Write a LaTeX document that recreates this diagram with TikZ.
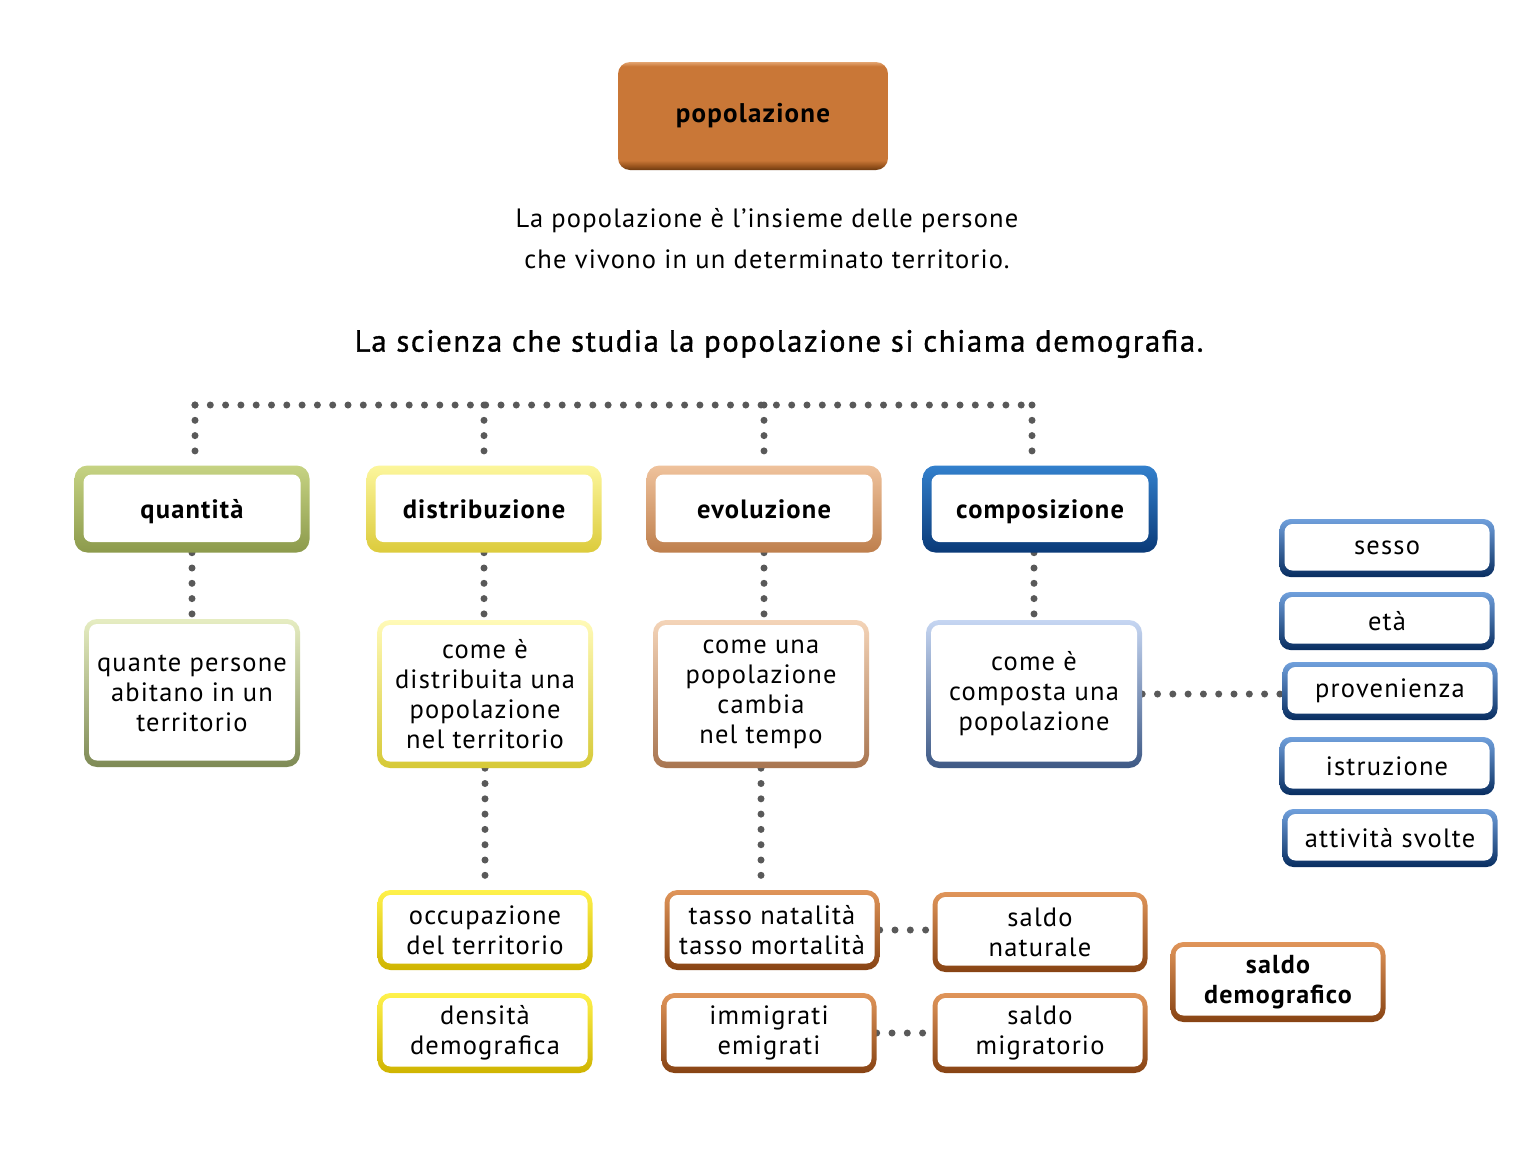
\documentclass[tikz,border=0pt]{standalone}
\usepackage{fontspec}
\setmainfont[LetterSpace=4.5]{PT Sans}
\newfontfamily\medfont[LetterSpace=5.5,FakeBold=1.2]{PT Sans}
\usetikzlibrary{shadings,backgrounds}
\definecolor{dotgray}{HTML}{595959}
\definecolor{popfill}{HTML}{C97737}
\definecolor{popdark}{HTML}{6E3A10}
\definecolor{popmid}{HTML}{9A551E}
\definecolor{poplight}{HTML}{E3A470}
\pgfdeclareverticalshading{popsh}{100bp}{color(0bp)=(popdark); color(25bp)=(popdark); color(27bp)=(popmid); color(29.5bp)=(popfill); color(73bp)=(popfill); color(75bp)=(poplight); color(100bp)=(poplight)}
\tikzset{
  dots/.style={line width=7pt, dash pattern=on 0pt off 15.3pt, line cap=round, draw=dotgray},
  box/.style={rounded corners=13pt, align=center, inner sep=0pt, font=\fontsize{26.5}{30}\selectfont},
  frame/.style n args={3}{top color=#1, bottom color=#2,
    path picture={\fill[white, rounded corners=8pt]
      ([xshift=#3, yshift=-#3]path picture bounding box.north west) rectangle
      ([xshift=-#3, yshift=#3+1.5pt]path picture bounding box.south east);}},
  lvlone/.style={box, minimum width=235pt, minimum height=87pt, text depth=-3pt, font=\fontsize{26.5}{30}\selectfont\bfseries},
  lvltwo/.style={box, minimum width=216pt, minimum height=148pt},
  lvlthree/.style={box, minimum width=215pt, minimum height=80pt},
  small/.style={box, minimum width=215pt, minimum height=58pt, rounded corners=11pt, frame={b3top}{b3bot}{5pt}},
}
\definecolor{g1top}{HTML}{C6D383}\definecolor{g1bot}{HTML}{8C9A4C}
\definecolor{g2top}{HTML}{E6EDC2}\definecolor{g2bot}{HTML}{7E8A55}
\definecolor{y1top}{HTML}{FCF69C}\definecolor{y1bot}{HTML}{DCCB3C}
\definecolor{y2top}{HTML}{FFFAB8}\definecolor{y2bot}{HTML}{D6C936}
\definecolor{y3top}{HTML}{FFF24C}\definecolor{y3bot}{HTML}{CFB400}
\definecolor{t1top}{HTML}{EFC29C}\definecolor{t1bot}{HTML}{BE7F4D}
\definecolor{t2top}{HTML}{F4D4B8}\definecolor{t2bot}{HTML}{A87550}
\definecolor{o3top}{HTML}{E0955A}\definecolor{o3bot}{HTML}{874313}
\definecolor{b1top}{HTML}{3380CC}\definecolor{b1bot}{HTML}{0A3A78}
\definecolor{b2top}{HTML}{C6D6F2}\definecolor{b2bot}{HTML}{3E5985}
\definecolor{b3top}{HTML}{70A0DC}\definecolor{b3bot}{HTML}{082D60}
\begin{document}
\begin{tikzpicture}[x=1pt, y=1pt]
\useasboundingbox (0,0) rectangle (1536,-1152);

% title box
\node[box, rounded corners=12pt, shading=popsh, minimum width=270pt, minimum height=108pt,
      font=\fontsize{27}{30}\selectfont\bfseries] (pop) at (753,-116) {popolazione};

\node[align=center, font=\fontsize{26.5}{41}\selectfont] (def) at (767,-239)
  {La popolazione è l’insieme delle persone\\che vivono in un determinato territorio.};
\node[font=\fontsize{30.5}{36}\selectfont\medfont] (sci) at (779,-344)
  {La scienza che studia la popolazione si chiama demografia.};

% coordinates of the dotted bar
\coordinate (hl) at (195,-405);
\coordinate (hr) at (1032,-405);

% level 1
\node[lvlone, frame={g1top}{g1bot}{9pt}] (quant) at (192,-509) {quantità};
\node[lvlone, frame={y1top}{y1bot}{9pt}] (distr) at (484,-509) {distribuzione};
\node[lvlone, frame={t1top}{t1bot}{9pt}] (evol) at (764,-509) {evoluzione};
\node[lvlone, frame={b1top}{b1bot}{9pt}] (comp) at (1040,-509) {composizione};

% level 2
\node[lvltwo, frame={g2top}{g2bot}{5pt}] (q2) at (192,-693) {quante persone\\abitano in un\\territorio};
\node[lvltwo, frame={y2top}{y2bot}{5pt}] (d2) at (485,-694) {come è\\distribuita una\\popolazione\\nel territorio};
\node[lvltwo, frame={t2top}{t2bot}{5pt}] (e2) at (761,-694) {come una\\popolazione\\cambia\\nel tempo};
\node[lvltwo, frame={b2top}{b2bot}{5pt}] (c2) at (1034,-694) {come è\\composta una\\popolazione};

% level 3
\node[lvlthree, frame={y3top}{y3bot}{5pt}] (occ) at (485,-930) {occupazione\\del territorio};
\node[lvlthree, frame={y3top}{y3bot}{5pt}] (dens) at (485,-1033) {densità\\demografica};
\node[lvlthree, frame={o3top}{o3bot}{5pt}] (tasso) at (772,-930) {tasso natalità\\tasso mortalità};
\node[lvlthree, frame={o3top}{o3bot}{5pt}] (immi) at (769,-1033) {immigrati\\emigrati};
\node[lvlthree, frame={o3top}{o3bot}{5pt}] (snat) at (1040,-932) {saldo\\naturale};
\node[lvlthree, frame={o3top}{o3bot}{5pt}] (smig) at (1040,-1033) {saldo\\migratorio};
\node[lvlthree, frame={o3top}{o3bot}{5pt}, font=\fontsize{26}{30}\selectfont\bfseries] (sdem) at (1278,-982) {saldo\\demografico};

% blue list
\node[small] (sesso) at (1387,-548) {sesso};
\node[small] (eta) at (1387,-621) {età};
\node[small] (prov) at (1390,-691) {provenienza};
\node[small] (istr) at (1387,-766) {istruzione};
\node[small] (att) at (1390,-838) {attività svolte};

% dotted connectors (behind the boxes)
\begin{scope}[on background layer]
\fill[white] (0,0) rectangle (1536,-1152);
\draw[dots] (hl) -- (hr);
\draw[dots] (hl) -- (hl |- quant.north);
\draw[dots] (distr.north |- hl) -- (distr.north);
\draw[dots] (evol.north |- hl) -- (evol.north);
\draw[dots] (hr) -- (hr |- comp.north);
\draw[dots] (quant.south) -- (q2.north);
\draw[dots] (distr.south) -- (distr.south |- d2.north);
\draw[dots] (evol.south) -- (evol.south |- e2.north);
\draw[dots] (c2.north |- comp.south) -- (c2.north);
\draw[dots] (d2.south) -- (d2.south |- occ.north);
\draw[dots] (e2.south) -- (e2.south |- tasso.north);
\draw[dots] (c2.east) -- (c2.east -| prov.west);
\draw[dots] (tasso.east) -- (tasso.east -| snat.west);
\draw[dots] (immi.east) -- (immi.east -| smig.west);
\end{scope}
\end{tikzpicture}
\end{document}
